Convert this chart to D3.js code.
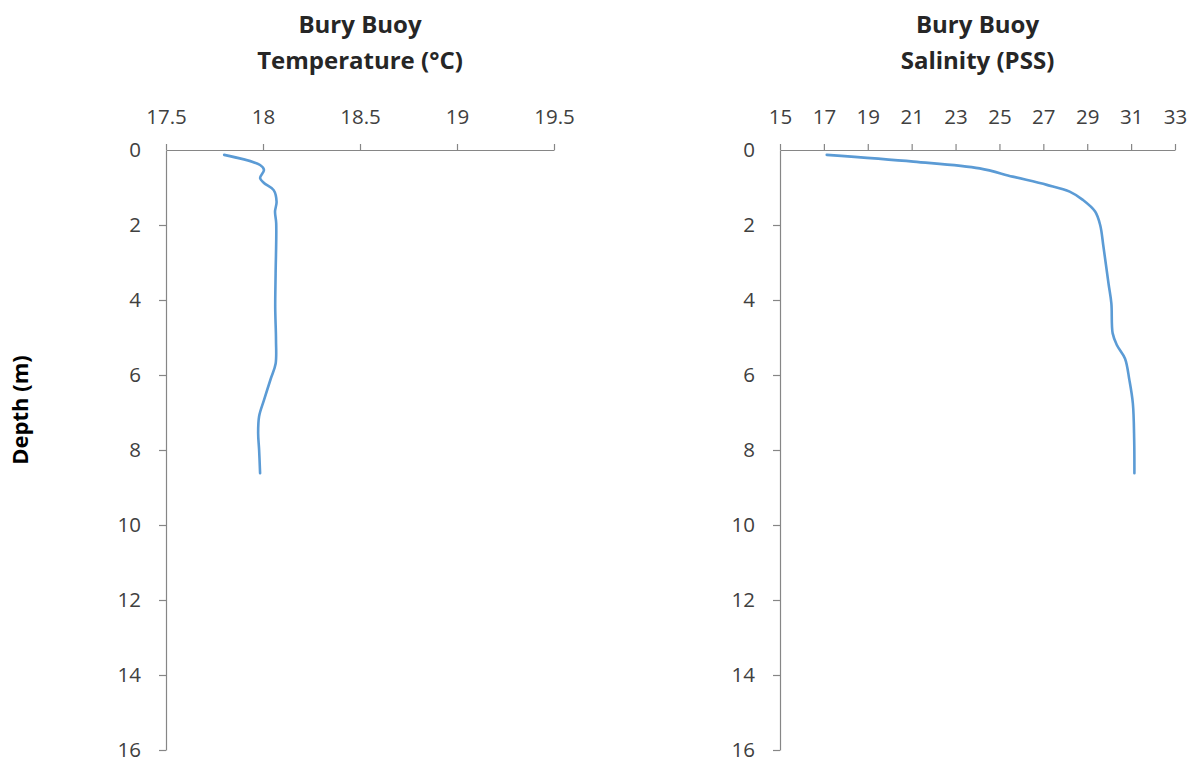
<!DOCTYPE html>
<html>
<head>
<meta charset="utf-8">
<script src="https://cdn.jsdelivr.net/npm/d3@7"></script>
<style>
  html, body { margin: 0; padding: 0; background: #fff; }
  svg { display: block; }
</style>
</head>
<body>
<svg id="chart" width="1197" height="765"></svg>
<script>
// ---- Data ----
const tempDepth = [0.13, 0.4, 0.53, 0.75, 0.88, 1.07, 1.38, 1.64, 1.95, 3.3, 4.2, 5.07, 5.7, 6.1, 6.67, 7.1, 7.55, 8.0, 8.62];
const tempValues = [17.80, 17.985, 18.005, 17.985, 18.005, 18.055, 18.07, 18.062, 18.068, 18.065, 18.063, 18.067, 18.065, 18.04, 18.005, 17.98, 17.975, 17.98, 17.985];

const salDepth = [0.13, 0.31, 0.49, 0.71, 0.93, 1.11, 1.33, 1.64, 2.0, 2.58, 3.56, 4.09, 4.89, 5.2, 5.56, 6.13, 6.76, 7.73, 8.62];
const salValues = [17.13, 21.08, 24.1, 25.6, 27.16, 28.2, 28.8, 29.36, 29.59, 29.74, 29.97, 30.1, 30.16, 30.35, 30.72, 30.92, 31.08, 31.14, 31.15];

const tempTicks = [17.5, 18, 18.5, 19, 19.5];
const salTicks = [15, 17, 19, 21, 23, 25, 27, 29, 31, 33];
const depthTicks = [0, 2, 4, 6, 8, 10, 12, 14, 16];

const panels = [
  { title: ["Bury Buoy", "Temperature (°C)"], depth: tempDepth, values: tempValues,
    domain: [17.5, 19.5], ticks: tempTicks, x0: 166, x1: 554 },
  { title: ["Bury Buoy", "Salinity (PSS)"], depth: salDepth, values: salValues,
    domain: [15, 33], ticks: salTicks, x0: 780, x1: 1175 }
];

// ---- Drawing ----
const svg = d3.select("#chart");
const font = "'Open Sans', 'Liberation Sans', sans-serif";
const y = d3.scaleLinear().domain([0, 16]).range([150, 750]);
const axisColor = "#868686";
const textColor = "#404040";

panels.forEach(p => {
  const x = d3.scaleLinear().domain(p.domain).range([p.x0, p.x1]);

  // X axis on top
  const gx = svg.append("g").attr("transform", `translate(0,${y(0)})`)
    .call(d3.axisTop(x).tickValues(p.ticks).tickSize(6).tickSizeOuter(0).tickPadding(20)
      .tickFormat(d => String(d)));
  // Y axis
  const gy = svg.append("g").attr("transform", `translate(${p.x0},0)`)
    .call(d3.axisLeft(y).tickValues(depthTicks).tickSize(7).tickSizeOuter(0).tickPadding(18)
      .tickFormat(d => String(d)));

  [gx, gy].forEach(g => {
    g.select(".domain").attr("stroke", axisColor).attr("stroke-width", 1.2);
    g.selectAll(".tick line").attr("stroke", axisColor).attr("stroke-width", 1.2);
    g.selectAll(".tick text").attr("fill", textColor).attr("font-family", font)
      .attr("font-size", 20.5);
  });
  gy.select(".tick:first-of-type line").remove();

  // Line
  const pts = p.depth.map((d, i) => [p.values[i], d]);
  const line = d3.line().x(d => x(d[0])).y(d => y(d[1])).curve(d3.curveCatmullRom.alpha(0.5));
  svg.append("path").datum(pts).attr("d", line)
    .attr("fill", "none").attr("stroke", "#5b9bd5").attr("stroke-width", 2.6)
    .attr("stroke-linecap", "round").attr("stroke-linejoin", "round");

  // Title
  const cx = (p.x0 + p.x1) / 2;
  const t = svg.append("text").attr("text-anchor", "middle").attr("font-family", font)
    .attr("font-weight", "bold").attr("font-size", 24).attr("fill", "#262626");
  t.append("tspan").attr("x", cx).attr("y", 33).text(p.title[0]);
  t.append("tspan").attr("x", cx).attr("y", 69).text(p.title[1]);
});

// Y axis label
svg.append("text").attr("transform", "translate(28,410) rotate(-90)")
  .attr("text-anchor", "middle").attr("font-family", font).attr("font-weight", "bold")
  .attr("font-size", 22).attr("fill", "#000").text("Depth (m)");
</script>
</body>
</html>
